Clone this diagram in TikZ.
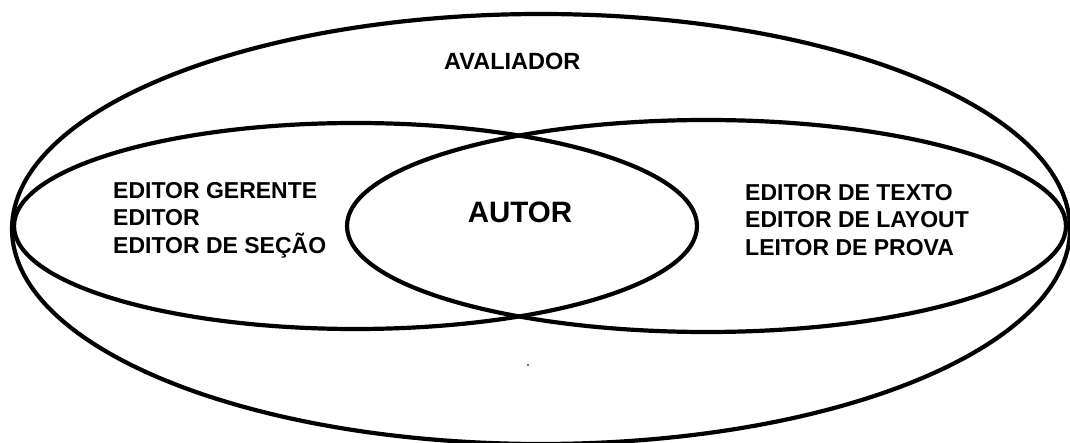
\documentclass[tikz,border=0pt]{standalone}
\usepackage{fontspec}
\setmainfont{Liberation Sans}
\begin{document}
\begin{tikzpicture}[x=1pt,y=-1pt,
  ring/.style={draw=black,line width=4.2pt},
  rolelist/.style={inner sep=0pt,align=left,font=\bfseries\fontsize{23}{27.5}\selectfont},
  biglabel/.style={inner sep=0pt,font=\bfseries\fontsize{29.5}{34}\selectfont}]
  \useasboundingbox[fill=white] (0,0) rectangle (1070,443);

  % outer set: reviewers
  \draw[ring] (541,229) ellipse [x radius=529pt, y radius=215pt];
  % left and right sets, overlapping in the middle
  \draw[ring] (355.5,226) ellipse [x radius=341.5pt, y radius=103pt];
  \draw[ring] (706.5,226) ellipse [x radius=359.5pt, y radius=106pt];

  \node[biglabel, font=\bfseries\fontsize{23.5}{28}\selectfont, anchor=north west] (avaliador) at (444,53) {AVALIADOR};
  \node[biglabel] (autor) at (520,212) {AUTOR};
  \node[rolelist, anchor=north west] (gestao) at (113,182)
    {EDITOR GERENTE\\EDITOR\\EDITOR DE SEÇÃO};
  \node[rolelist, anchor=north west] (producao) at (745,184)
    {EDITOR DE TEXTO\\EDITOR DE LAYOUT\\LEITOR DE PROVA};

  \fill[black!70] (528,365) circle (1.2pt);
\end{tikzpicture}
\end{document}
